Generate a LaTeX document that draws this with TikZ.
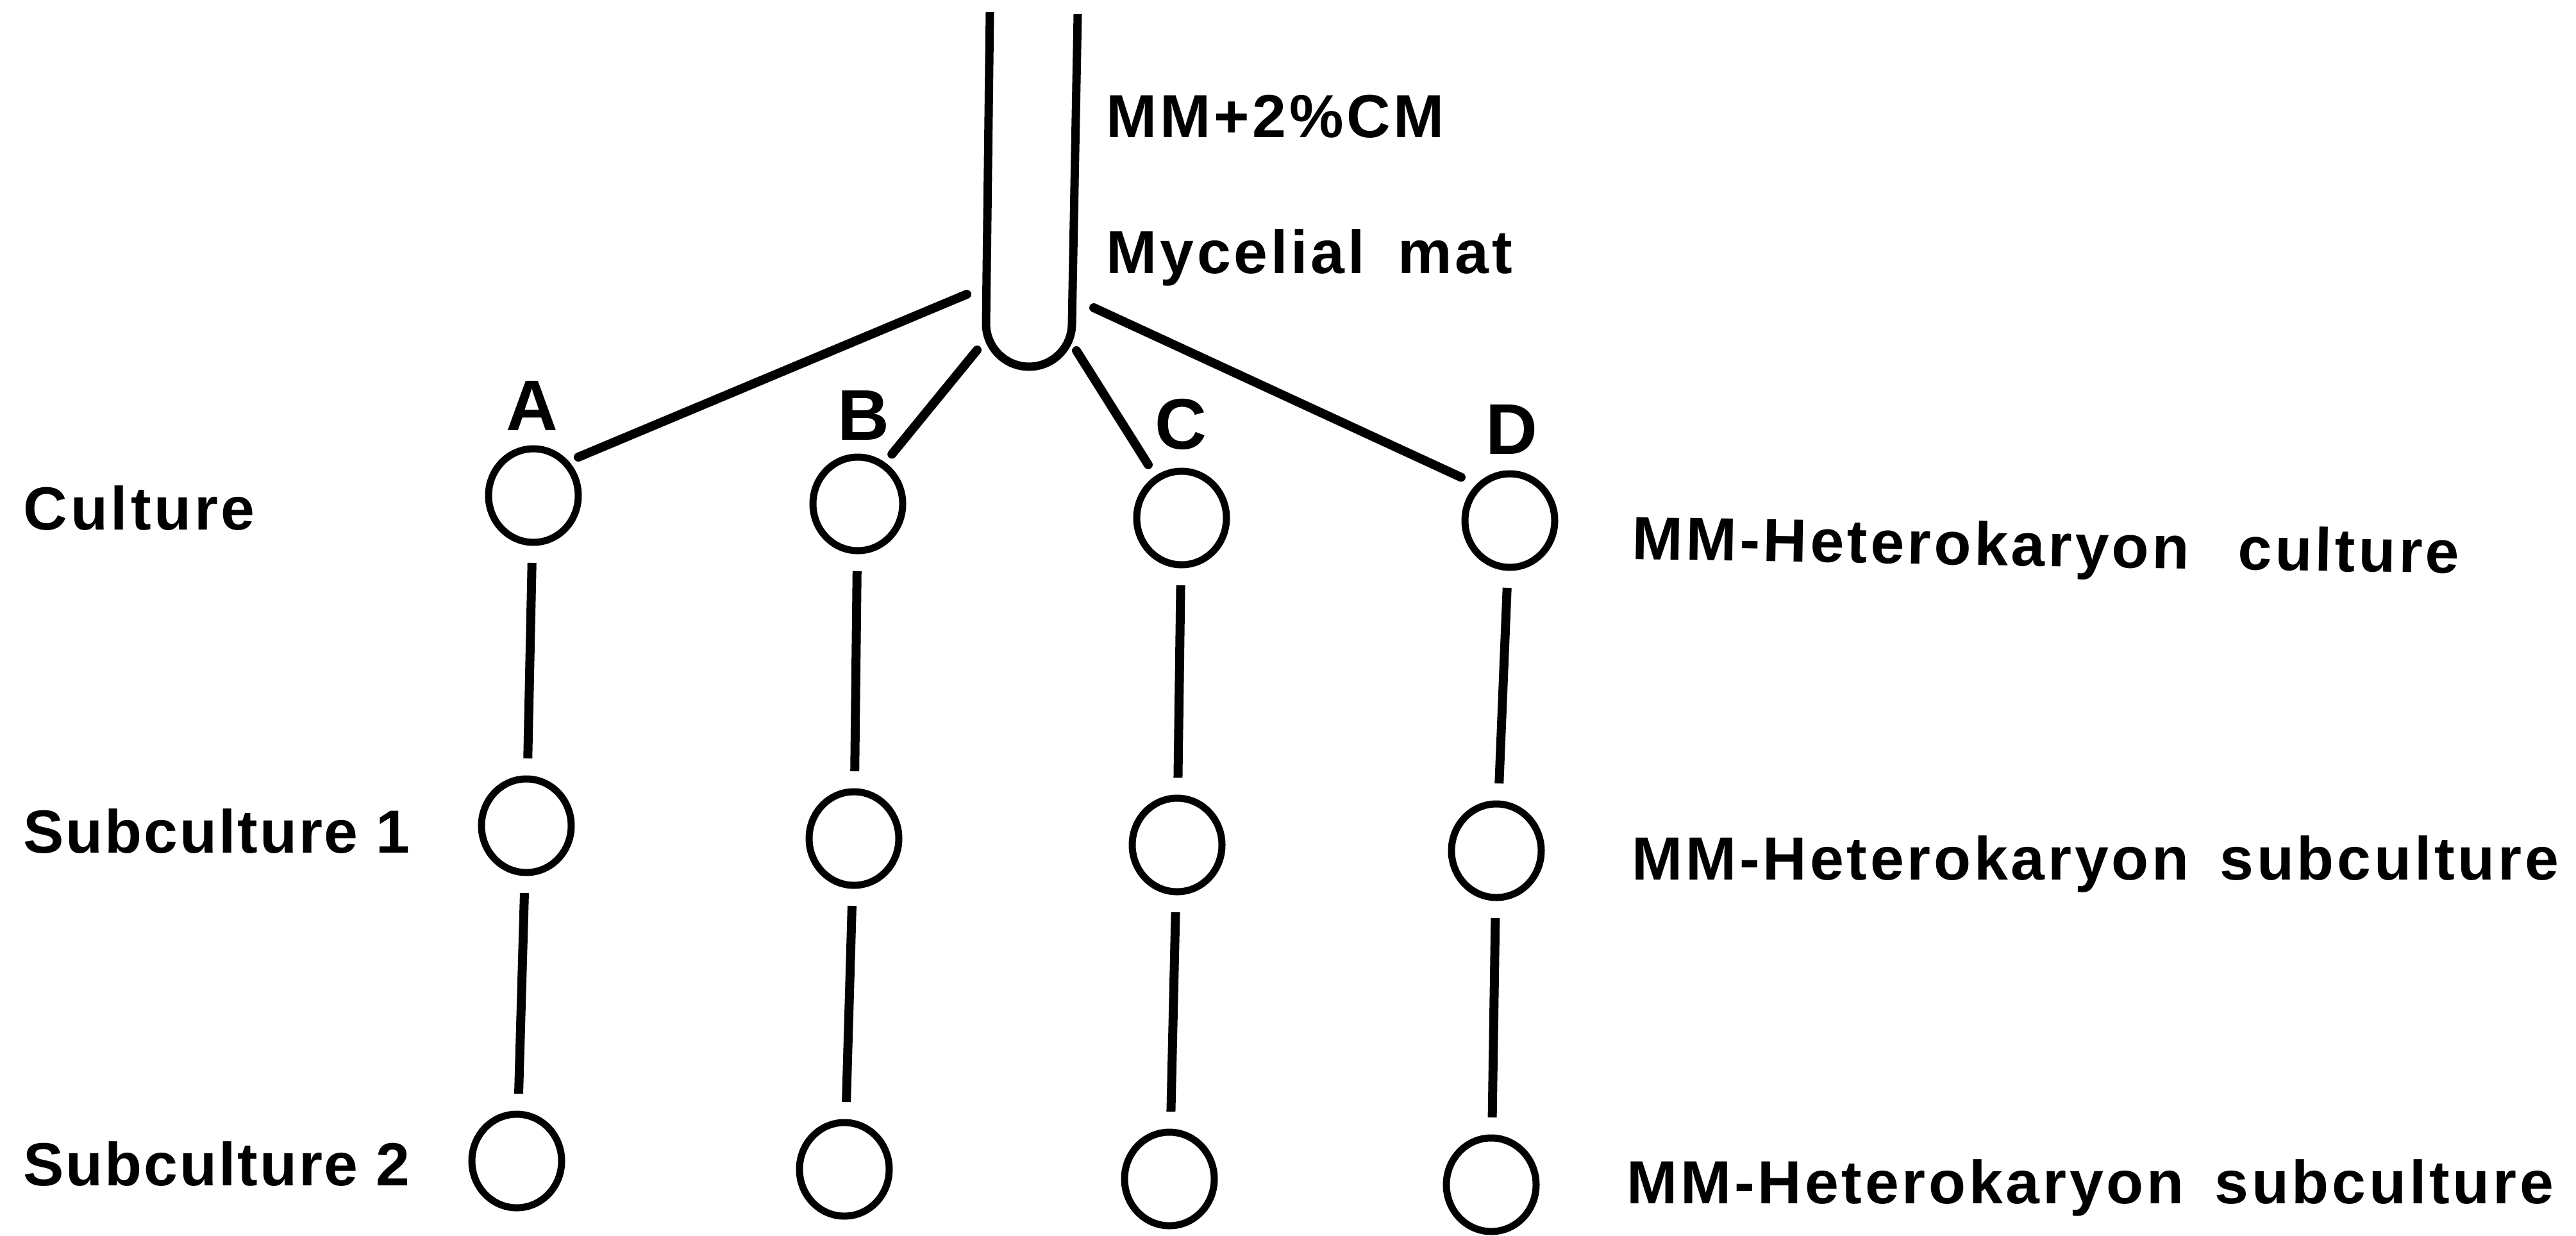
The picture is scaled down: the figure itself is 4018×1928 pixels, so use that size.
\documentclass[tikz,border=0pt]{standalone}
\usepackage{fontspec}
\setmainfont{Liberation Sans}
\newfontfamily\labelfont{Liberation Sans}[LetterSpace=5]
\newfontfamily\rowfont{Liberation Sans}[LetterSpace=3]
\usetikzlibrary{shapes.geometric}
\begin{document}
\begin{tikzpicture}[x=0.25pt, y=-0.25pt,
  dish/.style={ellipse, draw, line width=2.75pt, inner sep=0pt, outer sep=0pt,
               minimum width=35pt, minimum height=36.5pt},
  branch/.style={line width=3.5pt, line cap=round},
  stem/.style={line width=3.5pt, shorten >=8pt, shorten <=8pt},
  txt/.style={anchor=base west, inner sep=0pt,
              font=\labelfont\bfseries\fontsize{23.75}{28}\selectfont},
  rowtxt/.style={anchor=base west, inner sep=0pt,
              font=\rowfont\bfseries\fontsize{23.75}{28}\selectfont},
  letter/.style={anchor=base, inner sep=0pt,
                 font=\labelfont\bfseries\fontsize{28}{32}\selectfont}]
\useasboundingbox (0,0) rectangle (4018,1928);

% test tube holding the mycelial mat
\draw[line width=3.25pt] (1544,19) -- (1538,505)
  arc[start angle=180, end angle=0, radius=67] -- (1681,22);
\coordinate (tA) at (1508,459);
\coordinate (tB) at (1524,546);
\coordinate (tC) at (1679,547);
\coordinate (tD) at (1706,480);

% cultures and subcultures
\node[dish] (a0) at (832,773) {};
\node[dish] (b0) at (1338,786) {};
\node[dish] (c0) at (1843,808) {};
\node[dish] (d0) at (2355,812) {};
\node[dish] (a1) at (821,1288) {};
\node[dish] (b1) at (1332,1308) {};
\node[dish] (c1) at (1836,1318) {};
\node[dish] (d1) at (2334,1327) {};
\node[dish] (a2) at (806,1811) {};
\node[dish] (b2) at (1317,1824) {};
\node[dish] (c2) at (1824,1839) {};
\node[dish] (d2) at (2326,1848) {};

% branches from the tube
\draw[branch, shorten >=5.5pt] (tA) -- (a0.46);
\draw[branch, shorten >=5.5pt] (tB) -- (b0.57);
\draw[branch, shorten >=6.5pt] (tC) -- (c0.122);
\draw[branch, shorten >=8pt] (tD) -- (d0.131);

% transfers down each column
\foreach \k in {a,b,c,d}{
  \draw[stem] (\k0) -- (\k1);
  \draw[stem] (\k1) -- (\k2);
}

% column letters
\node[letter] (lA) at (830,671) {A};
\node[letter] (lB) at (1347,686) {B};
\node[letter] (lC) at (1842,700) {C};
\node[letter] (lD) at (2358,708) {D};

% row labels
\node[txt] (rowc) at (36,826) {Culture};
\node[rowtxt] (rows1) at (36,1330) {Subculture\hspace{7pt}1};
\node[rowtxt] (rows2) at (36,1849) {Subculture\hspace{7pt}2};

% descriptions
\node[txt] (medium) at (1725,214) {MM+2\%CM};
\node[txt] (mat) at (1725,426) {Mycelial\hspace{13pt}mat};
\node[txt, rotate=-1] (hc) at (2545,872) {MM-Heterokaryon\hspace{19pt}culture};
\node[txt] (hs1) at (2545,1372) {MM-Heterokaryon\hspace{12pt}subculture};
\node[txt] (hs2) at (2537,1877) {MM-Heterokaryon\hspace{12pt}subculture};
\end{tikzpicture}
\end{document}
